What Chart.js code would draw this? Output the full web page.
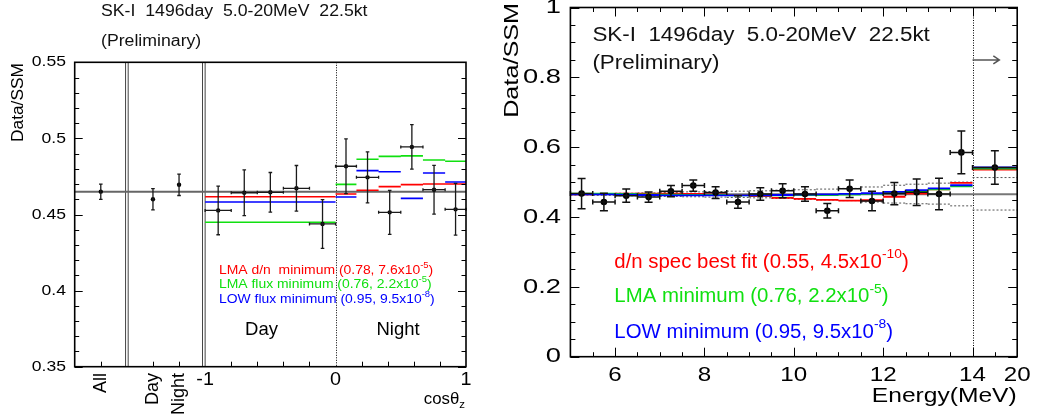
<!DOCTYPE html>
<html lang="en">
<head>
<meta charset="UTF-8">
<title>SK-I day/night and energy spectrum</title>
<script src="https://cdn.jsdelivr.net/npm/chart.js"></script>
<style>
    body { margin: 0; background: #fff; width: 1038px; height: 419px; position: relative; overflow: hidden; }
    #left { position: absolute; left: 0; top: 0; }
    #right { position: absolute; left: 500px; top: 0; }
</style>
</head>
<body>
<canvas id="left" width="500" height="419"></canvas>
<canvas id="right" width="538" height="419"></canvas>
<script>
// ---------- left panel: Data/SSM vs cos(theta_z) ----------
const summaryLabels = ['All', 'Day', 'Night'];
const summaryX = [-1.8, -1.4, -1.2];
const summaryVal = [0.465, 0.460, 0.4695];
const summaryErr = [0.005, 0.007, 0.007];
const sepX = [-1.6, -1.01];

const dayEdges = [-1, -0.8, -0.6, -0.4, -0.2, 0];
const dayVal = [0.4527, 0.4643, 0.4646, 0.4672, 0.4438];
const dayErr = [0.016, 0.015, 0.013, 0.015, 0.016];
const nightEdges = [0, 0.16, 0.33, 0.50, 0.67, 0.84, 1];
const nightVal = [0.4817, 0.4744, 0.4514, 0.4944, 0.4663, 0.4534];
const nightErr = [0.018, 0.0167, 0.0145, 0.0146, 0.016, 0.017];

// model bins: whole day side, then the six night bins
const cosModelEdges = [-1, 0, 0.16, 0.33, 0.50, 0.67, 0.84, 1];
const lmaDnCos = [0.4617, 0.4635, 0.4659, 0.4683, 0.4696, 0.4700, 0.4700];
const lmaFluxCos = [0.4449, 0.4698, 0.4863, 0.4882, 0.4885, 0.4858, 0.4850];
const lowFluxCos = [0.4582, 0.4615, 0.4788, 0.4781, 0.4606, 0.4773, 0.4714];

const leftYTicks = [0.35, 0.4, 0.45, 0.5, 0.55];
const leftXTicks = [-1, 0, 1];
const allRatio = 0.465;

// ---------- right panel: Data/SSM vs energy ----------
// last bin is 14-20 MeV, drawn one unit wide (14-15)
const eEdges = [5, 5.5, 6, 6.5, 7, 7.5, 8, 8.5, 9, 9.5, 10, 10.5, 11, 11.5, 12, 12.5, 13, 13.5, 14, 15];
const specVal = [0.467, 0.443, 0.461, 0.457, 0.474, 0.490, 0.470, 0.443, 0.466, 0.475,
                 0.466, 0.418, 0.481, 0.446, 0.467, 0.471, 0.466, 0.585, 0.542];
const specErr = [0.043, 0.025, 0.019, 0.015, 0.016, 0.016, 0.017, 0.018, 0.018, 0.020,
                 0.021, 0.021, 0.025, 0.028, 0.032, 0.038, 0.045, 0.061, 0.048];
const dnSpecFit = [0.465, 0.466, 0.467, 0.467, 0.467, 0.466, 0.465, 0.463, 0.460, 0.455,
                   0.452, 0.449, 0.447, 0.448, 0.458, 0.467, 0.479, 0.498, 0.536];
const lmaSpec = [0.467, 0.467, 0.466, 0.465, 0.464, 0.463, 0.463, 0.462, 0.462, 0.462,
                 0.463, 0.463, 0.464, 0.466, 0.469, 0.473, 0.479, 0.488, 0.539];
const lowSpec = [0.465, 0.465, 0.464, 0.463, 0.462, 0.462, 0.462, 0.462, 0.462, 0.463,
                 0.464, 0.465, 0.466, 0.468, 0.472, 0.477, 0.482, 0.491, 0.542];
const sysUp = [0.466, 0.467, 0.468, 0.469, 0.470, 0.472, 0.473, 0.474, 0.475, 0.477,
               0.478, 0.480, 0.482, 0.486, 0.491, 0.494, 0.497, 0.500, 0.513];
const sysDown = [0.463, 0.462, 0.461, 0.460, 0.459, 0.458, 0.457, 0.456, 0.455, 0.453,
                 0.451, 0.449, 0.447, 0.443, 0.440, 0.438, 0.437, 0.432, 0.420];
const rightYTicks = [0, 0.2, 0.4, 0.6, 0.8, 1];
const eTickVals = [6, 8, 10, 12, 14, 15];
const eTickLabels = ['6', '8', '10', '12', '14', '20'];
const breakE = 14;

const RED = '#ff0000', GREEN = '#10e010', BLUE = '#0000ff';
const FONT = '"Liberation Sans", Arial, Helvetica, sans-serif';

// ---------- helpers ----------
const centers = edges => edges.slice(0, -1).map((e, i) => (e + edges[i + 1]) / 2);
const steps = (edges, vals) => vals.flatMap((v, i) => [
    {x: edges[i], y: v}, {x: edges[i + 1], y: v}, {x: edges[i + 1], y: null}]);
const range = (a, b, s) => Array.from({length: Math.round((b - a) / s) + 1}, (_, i) => +(a + i * s).toFixed(4));
const isIn = (arr, v) => arr.some(t => Math.abs(t - v) < 1e-6);

const lineSet = (data, color, width, dash) => ({
    type: 'line', data, borderColor: color, borderWidth: width, borderDash: dash || [],
    pointRadius: 0, fill: false, spanGaps: false, tension: 0
});

const txt = (ctx, s, x, y, o = {}) => {
    ctx.save();
    ctx.translate(x, y);
    if (o.rot) ctx.rotate(o.rot);
    ctx.scale(o.sx || 1, 1);
    ctx.font = `${o.size || 16}px ${FONT}`;
    ctx.fillStyle = o.color || '#000';
    ctx.textAlign = o.align || 'left';
    ctx.textBaseline = 'middle';
    ctx.fillText(s, 0, 0);
    ctx.restore();
};

// parts: [text, 'sup' | 'sub' | undefined]
const rich = (ctx, parts, x, y, o = {}) => {
    const size = o.size || 16;
    ctx.save();
    ctx.translate(x, y);
    ctx.scale(o.sx || 1, 1);
    ctx.fillStyle = o.color || '#000';
    ctx.textBaseline = 'middle';
    ctx.textAlign = 'left';
    const fontOf = k => `${k ? size * 0.68 : size}px ${FONT}`;
    let total = 0;
    parts.forEach(([s, k]) => { ctx.font = fontOf(k); total += ctx.measureText(s).width; });
    let cx = o.align === 'right' ? -total : 0;
    parts.forEach(([s, k]) => {
        ctx.font = fontOf(k);
        const dy = k === 'sup' ? -size * 0.4 : k === 'sub' ? size * 0.3 : 0;
        ctx.fillText(s, cx, dy);
        cx += ctx.measureText(s).width;
    });
    ctx.restore();
};

const drawErrors = (chart, xs, vals, errs, lo, hi, st) => {
    const {ctx, scales: {x, y}} = chart;
    ctx.save();
    ctx.strokeStyle = st.color;
    ctx.lineWidth = st.width;
    ctx.beginPath();
    vals.forEach((v, i) => {
        const px = x.getPixelForValue(xs[i]);
        const t = y.getPixelForValue(v + errs[i]), b = y.getPixelForValue(v - errs[i]);
        ctx.moveTo(px, t); ctx.lineTo(px, b);
        ctx.moveTo(px - st.cap, t); ctx.lineTo(px + st.cap, t);
        ctx.moveTo(px - st.cap, b); ctx.lineTo(px + st.cap, b);
        if (lo) {
            const l = x.getPixelForValue(lo[i]), r = x.getPixelForValue(hi[i]), py = y.getPixelForValue(v);
            ctx.moveTo(l, py); ctx.lineTo(r, py);
            ctx.moveTo(l, py - st.hcap); ctx.lineTo(l, py + st.hcap);
            ctx.moveTo(r, py - st.hcap); ctx.lineTo(r, py + st.hcap);
        }
    });
    ctx.stroke();
    ctx.restore();
};

// ROOT style frame with ticks pointing inwards
const drawFrame = (chart, yTicks, xTicks, mirrorX) => {
    const {ctx, chartArea: a, scales: {x, y}} = chart;
    ctx.save();
    ctx.strokeStyle = '#000';
    ctx.lineWidth = 1;
    ctx.beginPath();
    yTicks.forEach(([v, len]) => {
        const py = Math.round(y.getPixelForValue(v)) + 0.5;
        ctx.moveTo(a.left, py); ctx.lineTo(a.left + len, py);
        ctx.moveTo(a.right, py); ctx.lineTo(a.right - len, py);
    });
    xTicks.forEach(([v, len]) => {
        const px = Math.round(x.getPixelForValue(v)) + 0.5;
        ctx.moveTo(px, a.bottom); ctx.lineTo(px, a.bottom - len);
        if (mirrorX) { ctx.moveTo(px, a.top); ctx.lineTo(px, a.top + len); }
    });
    ctx.stroke();
    ctx.lineWidth = 1.6;
    ctx.strokeRect(a.left, a.top, a.right - a.left, a.bottom - a.top);
    ctx.restore();
};

const dottedV = (chart, v) => {
    const {ctx, chartArea: a, scales: {x}} = chart;
    const px = Math.round(x.getPixelForValue(v)) + 0.5;
    ctx.save();
    ctx.strokeStyle = '#000';
    ctx.lineWidth = 1;
    ctx.setLineDash([1, 1.5]);
    ctx.beginPath(); ctx.moveTo(px, a.top); ctx.lineTo(px, a.bottom); ctx.stroke();
    ctx.restore();
};

// ---------- left chart ----------
const dayX = centers(dayEdges), nightX = centers(nightEdges);
const leftPoints = [
    ...summaryX.map((c, i) => ({x: c, y: summaryVal[i]})),
    ...dayX.map((c, i) => ({x: c, y: dayVal[i]})),
    ...nightX.map((c, i) => ({x: c, y: nightVal[i]}))
];

const leftDecor = {
    id: 'leftDecor',
    beforeDatasetsDraw(chart) {
        const {ctx, chartArea: a, scales: {x}} = chart;
        ctx.save();
        ctx.strokeStyle = '#444';
        ctx.lineWidth = 1;
        sepX.forEach(v => {
            const p = x.getPixelForValue(v);
            [-1.3, 1.3].forEach(d => {
                ctx.beginPath(); ctx.moveTo(p + d, a.top); ctx.lineTo(p + d, a.bottom); ctx.stroke();
            });
        });
        ctx.restore();
        dottedV(chart, 0);
    },
    afterDatasetsDraw(chart) {
        const st = {color: '#1a1a1a', width: 1.3, cap: 1.8, hcap: 1.5};
        drawErrors(chart, summaryX, summaryVal, summaryErr, null, null, st);
        drawErrors(chart, dayX, dayVal, dayErr, dayEdges.slice(0, -1), dayEdges.slice(1), st);
        drawErrors(chart, nightX, nightVal, nightErr, nightEdges.slice(0, -1), nightEdges.slice(1), st);
    },
    afterDraw(chart) {
        const {ctx, scales: {x, y}} = chart;
        const yT = range(0.35, 0.55, 0.01).map(v => [v, isIn(leftYTicks, v) ? 8 : 4.5]);
        const xT = [...range(-0.8, 0.8, 0.2).filter(v => Math.abs(v) > 1e-6), ...summaryX].map(v => [v, 5]);
        drawFrame(chart, yT, xT, false);

        txt(ctx, 'SK-I  1496day  5.0-20MeV  22.5kt', 101, 11.7, {size: 15.8, sx: 1.12, color: '#111'});
        txt(ctx, '(Preliminary)', 101, 41.7, {size: 15.8, sx: 1.12, color: '#111'});
        txt(ctx, 'Data/SSM', 18, 63, {size: 17, sx: 1.02, rot: -Math.PI / 2, align: 'right'});
        leftYTicks.forEach(v => txt(ctx, String(v), 66, y.getPixelForValue(v), {size: 15, sx: 1.17, align: 'right'}));
        leftXTicks.forEach(v => txt(ctx, String(v), x.getPixelForValue(v), 380, {size: 18, sx: 1.1, align: 'center'}));
        summaryLabels.forEach((s, i) => txt(ctx, s, x.getPixelForValue(summaryX[i]), 373,
            {size: 18, rot: -Math.PI / 2, align: 'right'}));
        rich(ctx, [['cosθ'], ['z', 'sub']], 465, 400, {size: 16, sx: 1.05, align: 'right'});

        txt(ctx, 'Day', 261.5, 330, {size: 18.5, align: 'center'});
        txt(ctx, 'Night', 398, 330, {size: 18.5, align: 'center'});

        const lg = {size: 12, sx: 1.16};
        rich(ctx, [['LMA d/n  minimum (0.78, 7.6x10'], ['-5', 'sup'], [')']], 219, 270.7, {...lg, color: RED});
        rich(ctx, [['LMA flux minimum (0.76, 2.2x10'], ['-5', 'sup'], [')']], 219, 284.3, {...lg, color: GREEN});
        rich(ctx, [['LOW flux minimum (0.95, 9.5x10'], ['-8', 'sup'], [')']], 219, 299.3, {...lg, color: BLUE});
    }
};

new Chart(document.getElementById('left'), {
    type: 'scatter',
    data: {
        datasets: [
            {data: leftPoints, pointRadius: 2.2, backgroundColor: '#000', borderWidth: 0},
            lineSet(steps(cosModelEdges, lowFluxCos), BLUE, 1.6),
            lineSet(steps(cosModelEdges, lmaFluxCos), GREEN, 1.6),
            lineSet(steps(cosModelEdges, lmaDnCos), RED, 1.6),
            lineSet([{x: -2, y: allRatio}, {x: 1, y: allRatio}], '#666', 2)
        ]
    },
    options: {
        responsive: false, animation: false, events: [],
        layout: {padding: {left: 74.7, right: 34, top: 62.3, bottom: 52.3}},
        scales: {
            x: {type: 'linear', min: -2, max: 1, display: false},
            y: {type: 'linear', min: 0.35, max: 0.55, display: false}
        },
        plugins: {legend: {display: false}, tooltip: {enabled: false}}
    },
    plugins: [leftDecor]
});

// ---------- right chart ----------
const eX = centers(eEdges);

const rightDecor = {
    id: 'rightDecor',
    beforeDatasetsDraw(chart) {
        dottedV(chart, breakE);
    },
    afterDatasetsDraw(chart) {
        drawErrors(chart, eX, specVal, specErr, eEdges.slice(0, -1), eEdges.slice(1),
            {color: '#111', width: 1.5, cap: 4, hcap: 2.5});
        // arrow: last bin continues up to 20 MeV
        const {ctx, scales: {x, y}} = chart;
        const x0 = x.getPixelForValue(breakE), x1 = x.getPixelForValue(14.6), py = y.getPixelForValue(0.85);
        ctx.save();
        ctx.strokeStyle = '#555';
        ctx.lineWidth = 1.5;
        ctx.beginPath();
        ctx.moveTo(x0, py); ctx.lineTo(x1, py);
        ctx.moveTo(x1 - 6, py - 4); ctx.lineTo(x1, py); ctx.lineTo(x1 - 6, py + 4);
        ctx.stroke();
        ctx.restore();
    },
    afterDraw(chart) {
        const {ctx, scales: {x, y}} = chart;
        const yT = range(0, 1, 0.05).map(v => [v, isIn(rightYTicks, v) ? 9 : 5]);
        const xT = range(5.5, 14.5, 0.5).map(v => [v, isIn(eTickVals, v) ? 9 : 4.5]);
        drawFrame(chart, yT, xT, true);

        txt(ctx, 'SK-I  1496day  5.0-20MeV  22.5kt', 92.4, 35, {size: 20, sx: 1.12, color: '#111'});
        txt(ctx, '(Preliminary)', 92.4, 63, {size: 20, sx: 1.12, color: '#111'});
        txt(ctx, 'Data/SSM', 12.5, 3, {size: 21, sx: 1.2, rot: -Math.PI / 2, align: 'right'});
        rightYTicks.forEach(v => txt(ctx, String(v), 61, y.getPixelForValue(v), {size: 21, sx: 1.3, align: 'right'}));
        eTickVals.forEach((v, i) => txt(ctx, eTickLabels[i], x.getPixelForValue(v), 375.7,
            {size: 21, sx: 1.15, align: 'center'}));
        txt(ctx, 'Energy(MeV)', 516.7, 396, {size: 20.5, sx: 1.2, align: 'right'});

        const lg = {size: 20, sx: 1.02};
        rich(ctx, [['d/n spec best fit (0.55, 4.5x10'], ['-10', 'sup'], [')']], 114.3, 262.6, {...lg, color: RED});
        rich(ctx, [['LMA minimum (0.76, 2.2x10'], ['-5', 'sup'], [')']], 114.3, 296.8, {...lg, color: GREEN});
        rich(ctx, [['LOW minimum (0.95, 9.5x10'], ['-8', 'sup'], [')']], 114.3, 332.4, {...lg, color: BLUE});
    }
};

new Chart(document.getElementById('right'), {
    type: 'scatter',
    data: {
        datasets: [
            {data: eX.map((c, i) => ({x: c, y: specVal[i]})), pointRadius: 3.3, backgroundColor: '#000', borderWidth: 0},
            lineSet(steps(eEdges, lowSpec), BLUE, 1.8),
            lineSet(steps(eEdges, lmaSpec), GREEN, 1.8),
            lineSet(steps(eEdges, dnSpecFit), RED, 1.8),
            lineSet([{x: 5, y: allRatio}, {x: 15, y: allRatio}], '#777', 2),
            lineSet(steps(eEdges, sysUp), '#555', 1, [2, 2]),
            lineSet(steps(eEdges, sysDown), '#555', 1, [2, 2])
        ]
    },
    options: {
        responsive: false, animation: false, events: [],
        layout: {padding: {left: 70.4, right: 20.8, top: 7.5, bottom: 62.3}},
        scales: {
            x: {type: 'linear', min: 5, max: 15, display: false},
            y: {type: 'linear', min: 0, max: 1, display: false}
        },
        plugins: {legend: {display: false}, tooltip: {enabled: false}}
    },
    plugins: [rightDecor]
});
</script>
</body>
</html>
